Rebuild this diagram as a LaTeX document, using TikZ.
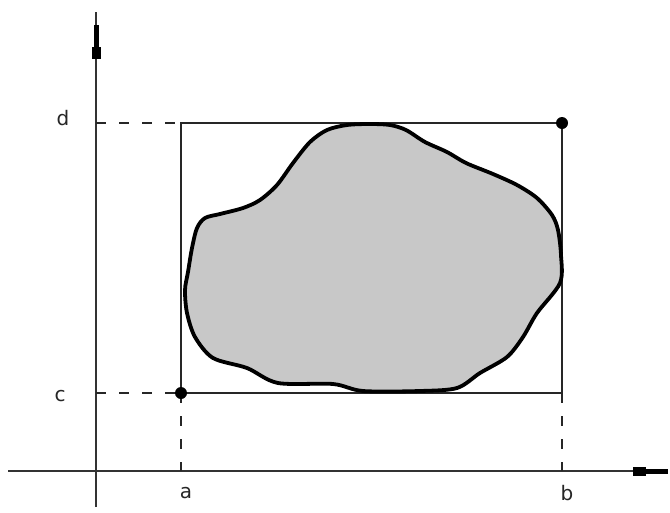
\documentclass[tikz,border=0pt]{standalone}
\usepackage{fontspec}
\setmainfont{DejaVu Sans}
\definecolor{blobgray}{RGB}{200,200,200}
\begin{document}
\begin{tikzpicture}[x=1pt,y=-1pt,
  axis/.style={line width=1.7pt, draw=black!80},
  frame/.style={line width=1.2pt, draw=black!85},
  guide/.style={line width=1.2pt, draw=black!85, dash pattern=on 10pt off 13pt},
  lbl/.style={font=\fontsize{20}{24}\selectfont, inner sep=0pt, text=black!85},
  pt/.style={circle, fill=black, inner sep=0pt, minimum size=12pt},
  blob/.style={line width=3.8pt, draw=black, fill=blobgray, line join=round},
  tipblk/.style={fill=black}]
\useasboundingbox (0,0) rectangle (670,512);
% named points
\coordinate (xs) at (8,471);   \coordinate (xe) at (668,471);
\coordinate (ys) at (96,507);  \coordinate (ye) at (96,12);
\coordinate (A) at (181,393);  \coordinate (B) at (562,123);
\coordinate (yd) at (96,123);  \coordinate (yc) at (96,393);
\coordinate (ad) at (181,123); \coordinate (bc) at (562,393);
\coordinate (xa) at (181,471); \coordinate (xb) at (562,471);
% axes
\draw[axis] (xs) -- (xe);
\draw[axis] (ys) -- (ye);
\fill[tipblk] (633,466.5) rectangle (646,476);
\fill[tipblk] (646,468.5) rectangle (668,473.5);
\fill[tipblk] (91.5,47) rectangle (101,59);
\fill[tipblk] (93.5,25) rectangle (98.5,47);
% guides
\draw[guide] (yd) -- (ad);
\draw[guide] (yc) -- (A);
\draw[guide] (A) -- (xa);
\draw[guide] (bc) -- (xb);
% rectangle
\draw[frame] (A) rectangle (B);
% blob
\draw[blob] plot[smooth cycle, tension=0.5] coordinates {
 (347,125) (370,124) (390,125) (406,130) (425,142) (447,152) (466,163)
 (493,174) (517,185) (537,198) (552,215) (558,230) (561,255) (560,283)
 (537,313) (523,337) (507,357) (480,373) (457,388) (420,391) (363,391)
 (333,384) (278,383) (247,368) (213,358) (195,337) (187,313) (185,290)
 (188,272) (192,248) (197,228) (205,218) (220,214) (243,208) (260,200)
 (277,185) (293,163) (310,142) (327,130)};
% corner dots
\node[pt] (pa) at (A) {};
\node[pt] (pb) at (B) {};
% labels
\node[lbl] (ld) at (63,118) {d};
\node[lbl] (lc) at (60,396) {c};
\node[lbl] (la) at (186,493) {a};
\node[lbl] (lb) at (567,493) {b};
\end{tikzpicture}
\end{document}
